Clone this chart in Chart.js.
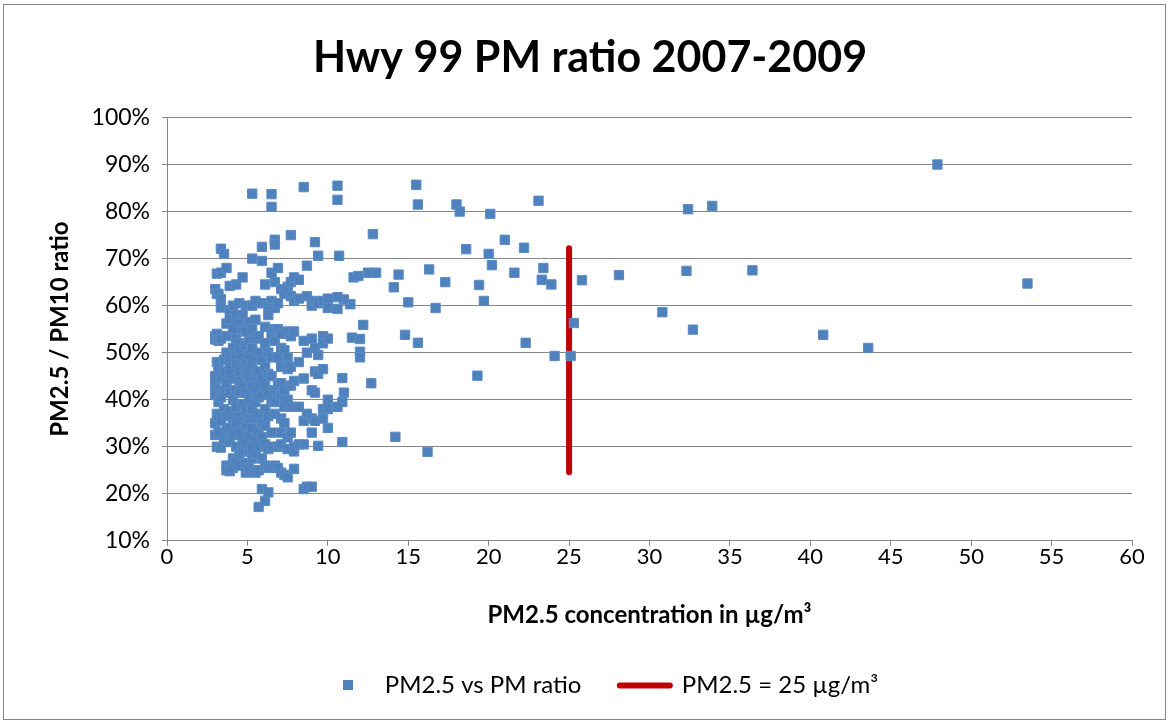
<!DOCTYPE html>
<html>
<head>
<meta charset="utf-8">
<script src="https://cdn.jsdelivr.net/npm/chart.js@4.4.1/dist/chart.umd.min.js"></script>
<style>
  html, body { margin: 0; padding: 0; background: #fff; }
  #frame { position: absolute; left: 3px; top: 4px; width: 1163px; height: 716px; border: 1px solid #868686; box-sizing: border-box; pointer-events: none; }
  canvas { position: absolute; left: 0; top: 0; }
</style>
</head>
<body>
<canvas id="pmChart" width="1168" height="721"></canvas>
<div id="frame"></div>
<script>
// PM2.5 concentration (µg/m³) and PM2.5/PM10 ratio (%), dense cluster
const denseConc = [
  3.0, 3.0, 3.0, 3.0, 3.0, 3.0, 3.0, 3.0, 3.0,
  3.1, 3.1, 3.1, 3.1, 3.1, 3.1,
  3.2, 3.2, 3.2, 3.2, 3.2, 3.2,
  3.35, 3.35, 3.35, 3.35, 3.35, 3.35, 3.35, 3.35, 3.35,
  3.55, 3.55, 3.55, 3.55, 3.55, 3.55,
  3.7, 3.7, 3.7, 3.7, 3.7, 3.7, 3.7, 3.7, 3.7,
  3.9, 3.9, 3.9, 3.9, 3.9, 3.9, 3.9, 3.9, 3.9, 3.9, 3.9,
  4.1, 4.1, 4.1, 4.1, 4.1, 4.1, 4.1, 4.1, 4.1, 4.1,
  4.3, 4.3, 4.3, 4.3, 4.3, 4.3, 4.3, 4.3, 4.3, 4.3,
  4.5, 4.5, 4.5, 4.5, 4.5, 4.5, 4.5, 4.5, 4.5, 4.5, 4.5,
  4.7, 4.7, 4.7, 4.7, 4.7, 4.7, 4.7, 4.7, 4.7, 4.7,
  4.9, 4.9, 4.9, 4.9, 4.9, 4.9, 4.9, 4.9, 4.9, 4.9, 4.9,
  5.1, 5.1, 5.1, 5.1, 5.1, 5.1, 5.1, 5.1, 5.1, 5.1,
  5.3, 5.3, 5.3, 5.3, 5.3, 5.3, 5.3, 5.3, 5.3, 5.3, 5.3,
  5.5, 5.5, 5.5, 5.5, 5.5, 5.5, 5.5, 5.5, 5.5, 5.5, 5.5,
  5.7, 5.7, 5.7, 5.7, 5.7, 5.7, 5.7, 5.7, 5.7, 5.7,
  5.9, 5.9, 5.9, 5.9, 5.9, 5.9, 5.9, 5.9, 5.9, 5.9,
  6.1, 6.1, 6.1, 6.1, 6.1, 6.1, 6.1, 6.1, 6.1, 6.1,
  6.3, 6.3, 6.3, 6.3, 6.3, 6.3, 6.3, 6.3, 6.3,
  6.5, 6.5, 6.5, 6.5, 6.5, 6.5, 6.5, 6.5, 6.5, 6.5, 6.5,
  6.7, 6.7, 6.7, 6.7, 6.7, 6.7, 6.7, 6.7, 6.7, 6.7,
  6.9, 6.9, 6.9, 6.9, 6.9, 6.9, 6.9,
  7.1, 7.1, 7.1, 7.1, 7.1, 7.1, 7.1, 7.1, 7.1, 7.1,
  7.3, 7.3, 7.3, 7.3, 7.3, 7.3, 7.3,
  7.5, 7.5, 7.5, 7.5, 7.5, 7.5, 7.5, 7.5, 7.5,
  7.7, 7.7, 7.7, 7.7, 7.7, 7.7, 7.7, 7.7,
  7.9, 7.9, 7.9, 7.9, 7.9, 7.9, 7.9,
  8.2, 8.2, 8.2, 8.2, 8.2,
  8.5, 8.5, 8.5, 8.5, 8.5, 8.5,
  8.7, 8.7, 8.7, 8.7, 8.7,
  9.0, 9.0, 9.0, 9.0, 9.0, 9.0,
  9.2, 9.2, 9.2, 9.2, 9.2, 9.2,
  9.4, 9.4, 9.4, 9.4, 9.4,
  9.7, 9.7, 9.7, 9.7, 9.7, 9.7,
  10.0, 10.0, 10.0, 10.0, 10.0, 10.0
];
const denseRatio = [
  63.5, 52.8, 45, 43, 35, 32.5, 53.5, 44, 41,
  66.8, 62.5, 48, 37, 30, 54,
  62.5, 52.5, 47, 39.5, 33, 36.5,
  72.1, 67, 61.4, 59.6, 53, 44.5, 40.5, 29.8, 35.5,
  71, 48.5, 46, 42, 38, 31.5,
  68, 56.2, 53.5, 50, 43.5, 36.5, 33.5, 26, 25,
  64.2, 59, 57, 49, 47, 45.5, 41.5, 37.5, 34, 31, 24.8,
  60, 55, 51, 48.5, 44.5, 40, 36, 32.5, 27.5, 25.5,
  64.5, 58, 53, 49.5, 47.5, 42, 38.5, 35, 30, 27,
  60.5, 56.5, 52, 50.5, 46, 44, 41.5, 36.5, 33, 28.5, 26,
  66, 58, 55, 49, 47, 43, 39, 35.5, 31, 29,
  60, 54.5, 51.5, 48, 45.5, 41.5, 37.5, 34.5, 30.5, 26.5, 24.5,
  56.5, 52.5, 49.5, 46.5, 44, 40, 36, 32.5, 29, 25.5,
  83.8, 70, 60, 55, 51, 47.5, 43, 38, 34, 30, 27.5,
  61, 57, 53, 49, 45, 42, 39.5, 36, 31.5, 28.5, 24.5,
  53.5, 50, 46, 43.5, 40.5, 37, 33, 30, 25, 17.2,
  72.5, 69.5, 60.5, 48.5, 44.5, 41, 35, 32, 27.5, 21,
  64.5, 55.5, 52, 47, 43, 38, 34.5, 30.5, 26, 18.5,
  60, 58, 50, 45.5, 41.5, 36.5, 29.5, 25.5, 20.3,
  83.7, 81, 67, 61, 54, 49, 45, 40, 33, 30, 25.5,
  74, 73, 65, 59.5, 55, 52.5, 42, 39.5, 37, 26,
  68, 60.5, 55, 49, 43, 30, 25.5,
  63.5, 54, 51, 47, 43.5, 41, 36, 33, 30.5, 24.5,
  62.5, 50.5, 42, 40, 38.5, 35, 24,
  64, 63, 54.5, 49, 46.5, 40, 32, 29.5, 23.5,
  75, 65, 62, 53.5, 47, 43, 38.5, 33,
  66, 61, 54.5, 44, 30, 29, 25.3,
  65.5, 61.5, 48, 38.5, 30.5,
  85.2, 52.5, 44.5, 35.5, 30.5, 21,
  68.5, 62, 50, 37, 21.5,
  60, 53, 42, 36, 33, 21.5,
  73.5, 61, 51, 46, 41.5, 35.5,
  70.6, 60.5, 49.5, 45.5, 30.2,
  61, 53.5, 52, 46.5, 38, 36,
  61.5, 59.5, 53, 40, 38, 34
];

// sparser points at higher concentrations
const sparseConc = [
  10.6, 10.6, 15.5, 15.6, 18.0, 18.2, 20.1, 23.1,
  12.8, 21.0, 22.2, 18.6, 20.0, 10.7,
  16.3, 20.2, 21.6, 23.4, 17.3, 23.3, 23.9, 25.8, 28.1, 32.3, 36.4, 53.5, 47.9, 32.4, 33.9,
  12.5, 13.0, 11.6, 11.9, 14.4, 14.1,
  19.4, 19.7, 15.0, 16.7, 11.4, 11.0, 10.6, 10.6,
  30.8, 25.3, 12.2, 14.8, 11.5, 12.0, 15.6, 22.3, 32.7, 40.8, 43.6,
  24.1, 25.1, 12.0, 12.0, 19.3, 10.9, 12.7, 11.0, 10.9, 10.6, 10.0, 10.9, 14.2, 16.2
];
const sparseRatio = [
  85.5, 82.5, 85.7, 81.5, 81.5, 80.0, 79.5, 82.3,
  75.2, 74.0, 72.3, 72.0, 71.0, 70.6,
  67.7, 68.6, 67.0, 68.0, 65.0, 65.5, 64.5, 65.4, 66.5, 67.4, 67.5, 64.7, 90.0, 80.5, 81.2,
  67.0, 67.0, 66.0, 66.3, 66.6, 63.9,
  64.4, 61.0, 60.7, 59.5, 60.3, 61.3, 61.8, 59.3,
  58.6, 56.3, 55.9, 53.8, 53.2, 52.9, 52.1, 52.1, 54.9, 53.8, 51.0,
  49.3, 49.3, 50.2, 49.0, 45.1, 44.6, 43.5, 41.5, 39.5, 38.5, 38.2, 31.0, 32.1, 28.9
];

// PM2.5 = 25 µg/m³ reference line
const limitConc = [25, 25];
const limitRatio = [24.6, 72.2];

const xTicks = [0, 60, 5];
const yTicks = [10, 100, 10];

const allConc = denseConc.concat(sparseConc);
const allRatio = denseRatio.concat(sparseRatio);

const FONT = "Lato, 'Open Sans', sans-serif";

// small square used as legend marker
const square = document.createElement("canvas");
square.width = 10;
square.height = 10;
const sq = square.getContext("2d");
sq.fillStyle = "#4F81BD";
sq.fillRect(0, 0, 10, 10);

const ctx = document.getElementById("pmChart").getContext("2d");
new Chart(ctx, {
  data: {
    datasets: [
      {
        type: "scatter",
        label: "PM2.5 vs PM ratio",
        data: allConc.map((x, i) => ({ x: x, y: allRatio[i] })),
        pointStyle: "rect",
        pointRadius: 6.6,
        backgroundColor: "#4F81BD",
        borderColor: "#5b8cc6",
        borderWidth: 1,
      },
      {
        type: "line",
        label: "PM2.5 = 25 µg/m³",
        data: limitConc.map((x, i) => ({ x: x, y: limitRatio[i] })),
        borderColor: "#C00000",
        borderWidth: 6,
        borderCapStyle: "round",
        pointRadius: 0,
        fill: false,
      },
    ],
  },
  options: {
    responsive: false,
    animation: false,
    layout: { padding: { left: 69, right: 36, top: 0, bottom: 13.6 } },
    plugins: {
      tooltip: { enabled: false },
      title: {
        display: true,
        text: "Hwy 99 PM ratio 2007-2009  ",
        color: "#000",
        font: { family: FONT, size: 43, weight: "bold" },
        padding: { top: 32.2, bottom: 33.7 },
      },
      legend: {
        position: "bottom",
        labels: {
          usePointStyle: true,
          pointStyleWidth: 50,
          padding: 20,
          color: "#000",
          font: { family: FONT, size: 24 },
          generateLabels: () => [
            { text: "PM2.5 vs PM ratio   ", pointStyle: square, fillStyle: "#4F81BD", strokeStyle: "#4F81BD", lineWidth: 0, datasetIndex: 0 },
            { text: "PM2.5 = 25 µg/m³", pointStyle: "line", strokeStyle: "#C00000", fillStyle: "#C00000", lineWidth: 6, lineCap: "round", datasetIndex: 1 },
          ],
        },
      },
    },
    scales: {
      x: {
        type: "linear",
        min: xTicks[0],
        max: xTicks[1],
        afterFit: (scale) => { scale.height = 112.6; },
        ticks: { stepSize: xTicks[2], color: "#000", padding: -2, font: { family: FONT, size: 22 } },
        grid: { drawOnChartArea: false, drawTicks: true, tickLength: 5, color: "#868686" },
        border: { color: "#868686", width: 1 },
        title: {
          display: true,
          text: "PM2.5 concentration in µg/m³",
          color: "#000",
          font: { family: FONT, size: 24, weight: "bold" },
          padding: { top: 0, bottom: 24.2 },
        },
      },
      y: {
        type: "linear",
        min: yTicks[0],
        max: yTicks[1],
        afterFit: (scale) => { scale.width = 98; },
        ticks: { stepSize: yTicks[2], color: "#000", padding: 12, font: { family: FONT, size: 23 }, callback: (v) => v + "%" },
        grid: { color: "#868686", lineWidth: 1, tickLength: 5 },
        border: { color: "#868686", width: 1 },
        title: {
          display: true,
          text: "PM2.5 / PM10 ratio",
          color: "#000",
          font: { family: FONT, size: 24, weight: "bold" },
          padding: { top: -23.4, bottom: 0 },
        },
      },
    },
  },
});
</script>
</body>
</html>
